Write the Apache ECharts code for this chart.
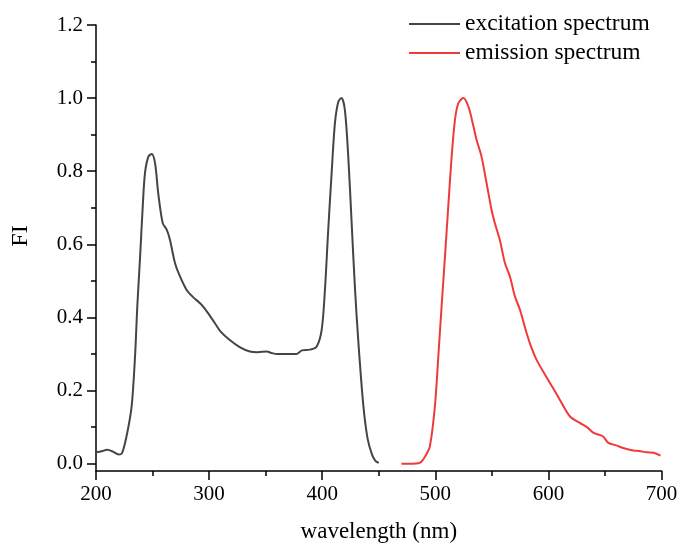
<!DOCTYPE html>
<html>
<head>
<meta charset="utf-8">
<script src="https://cdn.jsdelivr.net/npm/echarts@6/dist/echarts.min.js"></script>
<style>
html,body{margin:0;padding:0;background:#fff;}
#chart{width:679px;height:543px;}
</style>
</head>
<body>
<div id="chart"></div>
<script>
// Excitation spectrum
const excWl = [200,205,210,215,220,223,227,231.5,234.5,236.5,239,241.3,243.3,246.3,249.2,252.2,255,259,262.5,265.4,269.8,273.6,280,286,292,296,301,305,310,318,327,336,343,351,355,360,370,377,382,389,395,399.5,402.4,405.3,408.3,411.2,414.2,417,420,423,426,429,432,436.3,440,444,447,450];
const excVal = [0.031,0.034,0.038,0.033,0.025,0.029,0.075,0.157,0.293,0.43,0.567,0.703,0.795,0.84,0.847,0.822,0.74,0.658,0.64,0.612,0.549,0.517,0.476,0.455,0.439,0.425,0.403,0.385,0.362,0.339,0.319,0.307,0.305,0.307,0.303,0.300,0.300,0.300,0.31,0.312,0.32,0.366,0.476,0.64,0.795,0.931,0.99,1.0,0.968,0.84,0.658,0.476,0.33,0.16,0.07,0.025,0.008,0.002];
// Emission spectrum
const emWl = [470,480,485,487.8,491,495.1,499.6,502.6,505.5,508.5,511.4,514.4,517.3,520.3,524.7,529.2,533.5,536.4,540.8,545.3,549.7,552.6,557,561.5,565.9,570.4,574.8,580.7,585.1,589.5,597,604,610,619,628,634,640,648,653,660,666,675,680,687,693,699];
const emVal = [0,0,0.001,0.006,0.02,0.047,0.157,0.293,0.43,0.567,0.703,0.84,0.94,0.986,1.0,0.977,0.925,0.886,0.84,0.767,0.694,0.658,0.612,0.549,0.512,0.457,0.421,0.357,0.316,0.284,0.243,0.207,0.175,0.129,0.111,0.10,0.084,0.075,0.057,0.05,0.043,0.036,0.035,0.031,0.030,0.022];
// Tick labels
const yMajor = [0, 0.2, 0.4, 0.6, 0.8, 1.0, 1.2];
const yMinor = [0.1, 0.3, 0.5, 0.7, 0.9, 1.1];
const seriesNames = ['excitation spectrum', 'emission spectrum'];

const zip = (a, b) => a.map((x, i) => [x, b[i]]);
const FONT = 'Liberation Serif';

const chart = echarts.init(document.getElementById('chart'));
chart.setOption({
  animation: false,
  backgroundColor: '#fff',
  grid: { left: 96, right: 17.4, top: 25, bottom: 72, containLabel: false, outerBoundsMode: 'none' },
  legend: {
    orient: 'vertical',
    left: 404,
    top: 7,
    icon: 'rect',
    itemWidth: 51,
    itemHeight: 2,
    itemGap: 5,
    textStyle: { fontFamily: FONT, fontSize: 23.5, color: '#000' },
    data: seriesNames
  },
  xAxis: {
    type: 'value',
    min: 200, max: 700, interval: 100,
    name: 'wavelength (nm)',
    nameLocation: 'middle',
    nameGap: 49,
    nameTextStyle: { fontFamily: FONT, fontSize: 23, color: '#000' },
    axisLine: { show: true, onZero: false, lineStyle: { color: '#000', width: 1.5 } },
    axisTick: { show: true, length: 9, lineStyle: { color: '#000', width: 1.5 } },
    minorTick: { show: true, splitNumber: 2, length: 5, lineStyle: { color: '#000', width: 1.5 } },
    axisLabel: { fontFamily: FONT, fontSize: 21, color: '#000', margin: 13 },
    splitLine: { show: false }
  },
  yAxis: [{
    type: 'value',
    min: -0.02, max: 1.2,
    name: 'FI',
    nameLocation: 'middle',
    nameGap: 63,
    nameTextStyle: { fontFamily: FONT, fontSize: 24, color: '#000', padding: [0, 0, 0, 24] },
    axisLine: { show: true, lineStyle: { color: '#000', width: 1.5 } },
    axisTick: { show: true, length: 9, customValues: yMajor, lineStyle: { color: '#000', width: 1.5 } },
    axisLabel: {
      fontFamily: FONT, fontSize: 21, color: '#000', margin: 13,
      customValues: yMajor,
      formatter: v => v.toFixed(1)
    },
    splitLine: { show: false }
  }, {
    type: 'value',
    min: -0.02, max: 1.2,
    position: 'left',
    axisLine: { show: false },
    axisTick: { show: true, length: 5, customValues: yMinor, lineStyle: { color: '#000', width: 1.5 } },
    axisLabel: { show: false },
    splitLine: { show: false }
  }],
  series: [{
    name: seriesNames[0],
    type: 'line',
    data: zip(excWl, excVal),
    symbol: 'none',
    smooth: 0.3,
    lineStyle: { color: '#454545', width: 2 },
    itemStyle: { color: '#454545' }
  }, {
    name: seriesNames[1],
    type: 'line',
    data: zip(emWl, emVal),
    symbol: 'none',
    smooth: 0.3,
    lineStyle: { color: '#f03a3a', width: 2 },
    itemStyle: { color: '#f03a3a' }
  }]
});
</script>
</body>
</html>
